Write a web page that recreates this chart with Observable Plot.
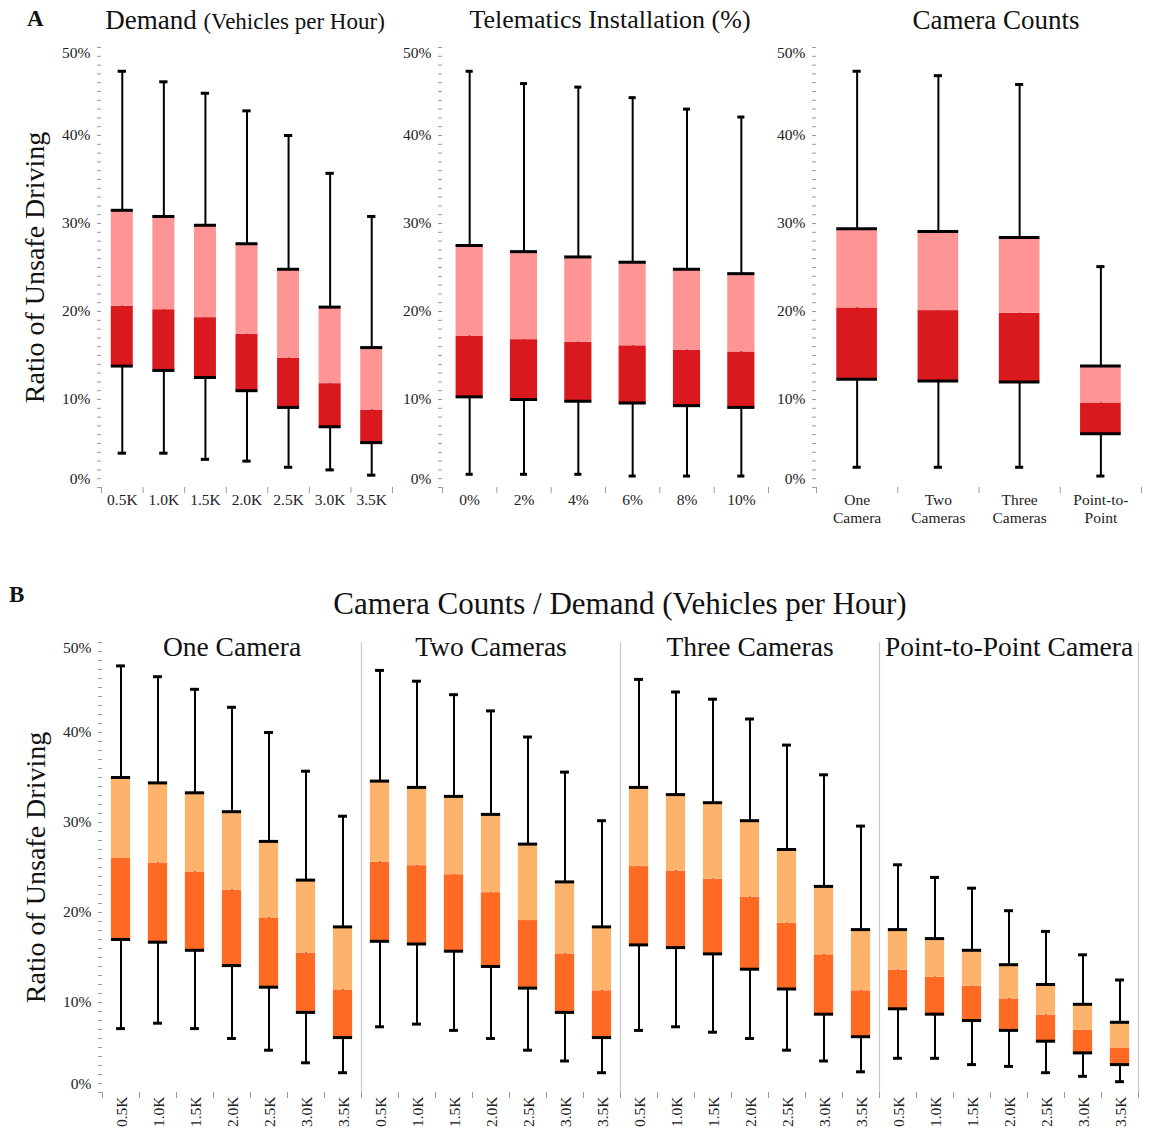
<!DOCTYPE html>
<html>
<head>
<meta charset="utf-8">
<script src="https://cdn.jsdelivr.net/npm/d3@7"></script>
<script src="https://cdn.jsdelivr.net/npm/@observablehq/plot@0.6"></script>
<style>
  body { margin: 0; background: #fff; font-family: "Liberation Serif", serif; }
  #root { position: relative; width: 1152px; height: 1130px; overflow: hidden; }
  .abs { position: absolute; }
  .ttl { position: absolute; font-family: "Liberation Serif", serif; color: #111; white-space: nowrap; transform: translateX(-50%); }
  .panel { position: absolute; font-family: "Liberation Serif", serif; font-weight: bold; font-size: 23px; color: #111; }
</style>
</head>
<body>
<div id="root"></div>
<script>
// ---------- DATA (values in % of unsafe driving) ----------
const demandCats = ["0.5K", "1.0K", "1.5K", "2.0K", "2.5K", "3.0K", "3.5K"];
const demandMin = [3.9, 3.9, 3.2, 3.0, 2.3, 2.0, 1.4];
const demandQ1  = [13.8, 13.3, 12.5, 11.0, 9.1, 6.9, 5.1];
const demandMed = [20.6, 20.2, 19.3, 17.4, 14.7, 11.8, 8.8];
const demandQ3  = [31.5, 30.8, 29.8, 27.7, 24.8, 20.5, 15.9];
const demandMax = [47.3, 46.1, 44.8, 42.8, 40.0, 35.7, 30.8];

const teleCats = ["0%", "2%", "4%", "6%", "8%", "10%"];
const teleMin = [1.5, 1.5, 1.5, 1.3, 1.3, 1.3];
const teleQ1  = [10.3, 10.0, 9.8, 9.6, 9.3, 9.1];
const teleMed = [17.2, 16.8, 16.5, 16.1, 15.6, 15.4];
const teleQ3  = [27.5, 26.8, 26.2, 25.6, 24.8, 24.3];
const teleMax = [47.3, 45.9, 45.5, 44.3, 43.0, 42.1];

const camCats = ["One\nCamera", "Two\nCameras", "Three\nCameras", "Point-to-\nPoint"];
const camMin = [2.3, 2.3, 2.3, 1.3];
const camQ1  = [12.3, 12.1, 12.0, 6.1];
const camMed = [20.4, 20.1, 19.8, 9.6];
const camQ3  = [29.4, 29.1, 28.4, 13.8];
const camMax = [47.3, 46.8, 45.8, 25.1];

const facetCats = ["One Camera", "Two Cameras", "Three Cameras", "Point-to-Point Camera"];
// Panel B: [facet][demand level]
const bMin = [
  [7.1, 7.7, 7.1, 6.0, 4.7, 3.3, 2.2],
  [7.3, 7.6, 6.9, 6.0, 4.7, 3.5, 2.2],
  [6.9, 7.3, 6.7, 6.0, 4.7, 3.5, 2.3],
  [3.8, 3.8, 3.1, 2.9, 2.2, 1.8, 1.2]
];
const bQ1 = [
  [17.0, 16.7, 15.8, 14.1, 11.7, 8.9, 6.1],
  [16.8, 16.5, 15.7, 14.0, 11.6, 8.9, 6.1],
  [16.4, 16.1, 15.4, 13.7, 11.5, 8.7, 6.2],
  [9.3, 8.7, 8.0, 6.9, 5.7, 4.4, 3.1]
];
const bMed = [
  [26.0, 25.5, 24.5, 22.5, 19.4, 15.5, 11.4],
  [25.6, 25.2, 24.2, 22.2, 19.1, 15.4, 11.3],
  [25.1, 24.6, 23.7, 21.7, 18.8, 15.3, 11.3],
  [13.6, 12.8, 11.8, 10.4, 8.6, 6.9, 4.9]
];
const bQ3 = [
  [35.0, 34.4, 33.3, 31.2, 27.9, 23.6, 18.4],
  [34.6, 33.9, 32.9, 30.9, 27.6, 23.4, 18.4],
  [33.9, 33.1, 32.2, 30.2, 27.0, 22.9, 18.1],
  [18.1, 17.1, 15.8, 14.2, 12.0, 9.8, 7.8]
];
const bMax = [
  [47.4, 46.2, 44.8, 42.8, 40.0, 35.7, 30.7],
  [46.9, 45.7, 44.2, 42.4, 39.5, 35.6, 30.2],
  [45.9, 44.5, 43.7, 41.5, 38.6, 35.3, 29.6],
  [25.3, 23.9, 22.7, 20.2, 17.9, 15.3, 12.5]
];

const yTicksMajor = [0, 10, 20, 30, 40, 50];

// ---------- helpers ----------
const FONT = "Liberation Serif, serif";
const AXIS_GRAY = "#9a9a9a";
const redLight = "#ff9494", redDark = "#d9191e";
const orgLight = "#fdb36c", orgDark = "#fe6a23";

function rows(cats, mn, q1, md, q3, mx, extra = {}) {
  return cats.map((c, k) => ({cat: c, i: k + 1, min: mn[k], q1: q1[k], med: md[k], q3: q3[k], max: mx[k], ...extra}));
}

function boxMarks(data, light, dark, bw, cw, facet) {
  const o = facet ? {fx: "facet"} : {};
  return [
    Plot.ruleX(data, {...o, x: "i", y1: "min", y2: "max", stroke: "#000", strokeWidth: 2}),
    Plot.rectY(data, {...o, x1: d => d.i - bw / 2, x2: d => d.i + bw / 2, y1: "q1", y2: "med", fill: dark}),
    Plot.rectY(data, {...o, x1: d => d.i - bw / 2, x2: d => d.i + bw / 2, y1: "med", y2: "q3", fill: light}),
    Plot.ruleY(data, {...o, x1: d => d.i - bw / 2, x2: d => d.i + bw / 2, y: "q1", stroke: "#000", strokeWidth: 3}),
    Plot.ruleY(data, {...o, x1: d => d.i - bw / 2, x2: d => d.i + bw / 2, y: "q3", stroke: "#000", strokeWidth: 3}),
    Plot.ruleY(data, {...o, x1: d => d.i - cw / 2, x2: d => d.i + cw / 2, y: "max", stroke: "#000", strokeWidth: 3}),
    Plot.ruleY(data, {...o, x1: d => d.i - cw / 2, x2: d => d.i + cw / 2, y: "min", stroke: "#000", strokeWidth: 3})
  ];
}

function axisMarks(cats, opts = {}) {
  const n = cats.length;
  const bounds = d3.range(0, n + 1).map(k => k + 0.5);
  const centers = d3.range(1, n + 1);
  const yl = {tickFormat: d => d + "%", tickSize: 0, tickPadding: 11, fill: "#222", fontSize: 15.5, fontFamily: FONT, label: null};
  return [
    Plot.axisY({ticks: d3.range(0, 51, 1), tickFormat: () => "", tickSize: 4, stroke: AXIS_GRAY, line: true, label: null}),
    Plot.axisY({...yl, ticks: yTicksMajor.slice(1, -1)}),
    Plot.axisY({...yl, ticks: yTicksMajor.slice(0, 1), dy: -8}),
    Plot.axisY({...yl, ticks: yTicksMajor.slice(-1), dy: 6}),
    Plot.axisX({ticks: bounds, tickFormat: () => "", tickSize: 6, stroke: AXIS_GRAY, line: true, label: null}),
    Plot.axisX({ticks: centers, tickFormat: k => cats[k - 1], tickSize: 0, tickPadding: opts.pad ?? 6,
      tickRotate: opts.rotate ?? 0, fill: "#222", fontSize: 15.5, fontFamily: FONT, lineHeight: 1.15, label: null})
  ];
}

const root = document.getElementById("root");
function place(el, left, top) { el.classList.add("abs"); el.style.left = left + "px"; el.style.top = top + "px"; root.appendChild(el); }
function addDiv(cls, html, left, top, size) {
  const d = document.createElement("div"); d.className = cls; d.innerHTML = html;
  d.style.left = left + "px"; d.style.top = top + "px"; if (size) d.style.fontSize = size + "px";
  root.appendChild(d); return d;
}

// ---------- Panel A ----------
const A_TOP = 47, A_BOTTOM = 487, A_H = 540;
function panelA(cats, mn, q1, md, q3, mx, cfg) {
  const data = rows(cats, mn, q1, md, q3, mx);
  const n = cats.length;
  const marks = [
    ...axisMarks(cats, {pad: cfg.pad}),
    ...boxMarks(data, redLight, redDark, cfg.bw, cfg.cw, false)
  ];
  if (cfg.ylabel) marks.push(Plot.axisY({ticks: [], label: "Ratio of Unsafe Driving", labelAnchor: "center", labelArrow: "none",
    labelOffset: cfg.ml - 24, fontSize: 28, fontFamily: FONT, fill: "#111", line: false, tickSize: 0, dy: -4}));
  return Plot.plot({
    width: cfg.w, height: A_H,
    marginLeft: cfg.ml, marginRight: cfg.w - cfg.ml - cfg.fw, marginTop: A_TOP, marginBottom: A_H - A_BOTTOM,
    style: {fontFamily: FONT, background: "transparent", overflow: "visible"},
    x: {type: "linear", domain: [0.5, n + 0.5], axis: null},
    y: {domain: [0, 50], axis: null},
    marks
  });
}

place(panelA(demandCats, demandMin, demandQ1, demandMed, demandQ3, demandMax, {w: 400, ml: 101, fw: 291, bw: 0.53, cw: 0.2, ylabel: true, pad: 5}), 0, 0);
place(panelA(teleCats, teleMin, teleQ1, teleMed, teleQ3, teleMax, {w: 375, ml: 42, fw: 326, bw: 0.5, cw: 0.13, pad: 5}), 400, 0);
place(panelA(camCats, camMin, camQ1, camMed, camQ3, camMax, {w: 377, ml: 41, fw: 325, bw: 0.5, cw: 0.1, pad: 5}), 775, 0);

addDiv("panel", "A", 27, 6);
addDiv("ttl", 'Demand <span style="font-size:23px">(Vehicles per Hour)</span>', 245, 5, 27);
addDiv("ttl", "Telematics Installation (%)", 610, 5, 26);
addDiv("ttl", "Camera Counts", 996, 5, 27);

// ---------- Panel B ----------
const B_SVG_TOP = 560, B_TOP = 642, B_BOTTOM = 1092, B_H = 570;
const bData = facetCats.flatMap((f, j) => rows(demandCats, bMin[j], bQ1[j], bMed[j], bQ3[j], bMax[j], {facet: f}));
const nB = demandCats.length;
const plotB = Plot.plot({
  width: 1152, height: B_H,
  marginLeft: 101, marginRight: 13, marginTop: B_TOP - B_SVG_TOP, marginBottom: B_SVG_TOP + B_H - B_BOTTOM,
  style: {fontFamily: FONT, background: "transparent", overflow: "visible"},
  fx: {domain: facetCats, padding: 0, axis: null},
  x: {type: "linear", domain: [0.5, nB + 0.5], axis: null},
  y: {domain: [0, 50], axis: null},
  marks: [
    Plot.ruleX([nB + 0.5], {x: d => d, stroke: "#c8c8c8", strokeWidth: 1.2}),
    ...axisMarks(demandCats, {rotate: -90, pad: 4}),
    Plot.axisY({ticks: [], label: "Ratio of Unsafe Driving", labelAnchor: "center", labelArrow: "none",
      labelOffset: 77, fontSize: 28, fontFamily: FONT, fill: "#111", line: false, tickSize: 0}),
    ...boxMarks(bData, orgLight, orgDark, 0.52, 0.24, true),
    Plot.text(facetCats, {fx: d => d, text: d => d, frameAnchor: "top", dy: -6, fontSize: 27.5, fontFamily: FONT, fill: "#111", lineAnchor: "top"})
  ]
});
place(plotB, 0, B_SVG_TOP);

addDiv("panel", "B", 9, 582);
addDiv("ttl", "Camera Counts / Demand (Vehicles per Hour)", 620, 586, 31);
</script>
</body>
</html>
